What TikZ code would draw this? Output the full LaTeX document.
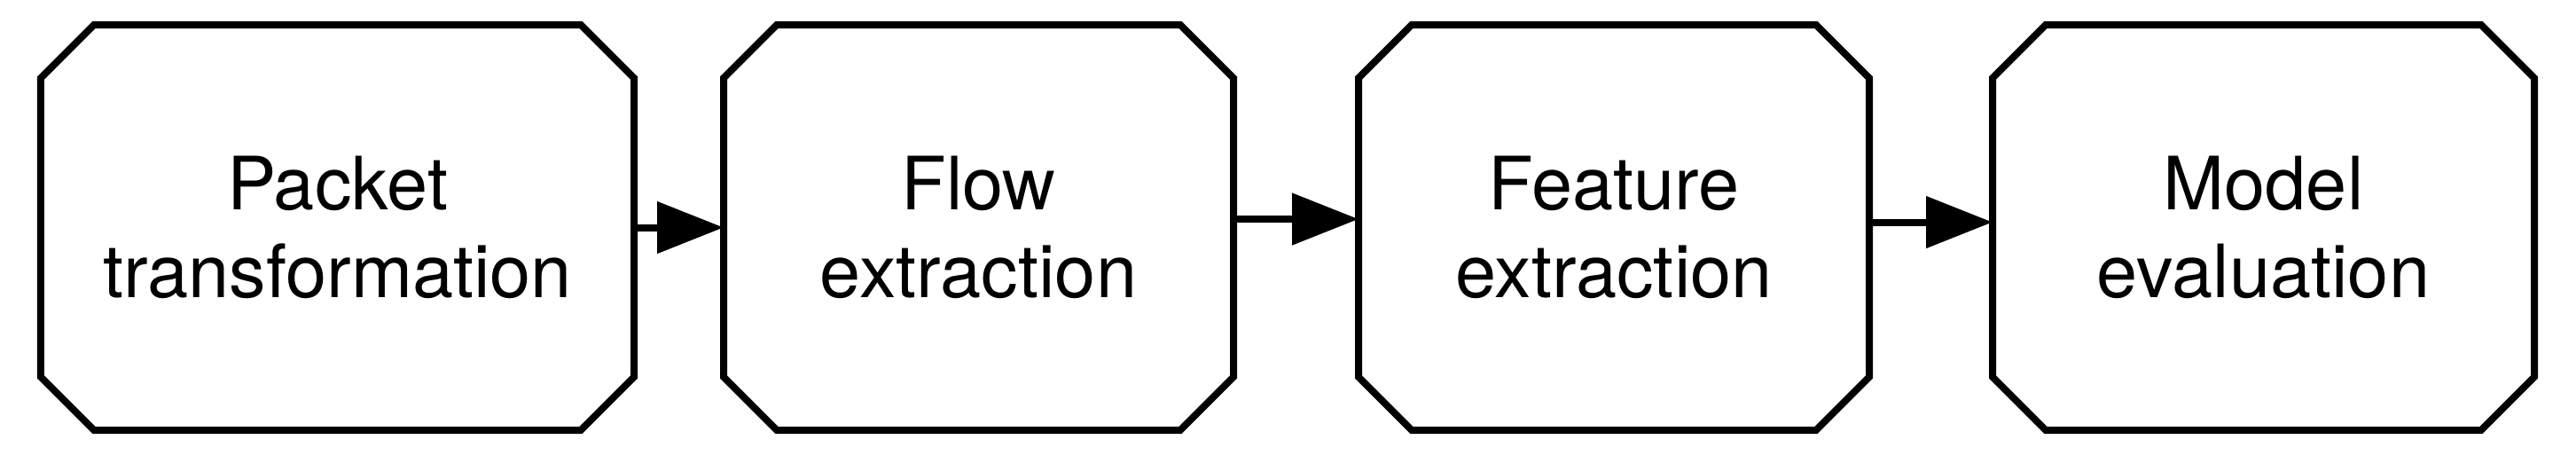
\documentclass[tikz,border=0pt]{standalone}
\usepackage{fontspec}
\setmainfont{TeX Gyre Heros}
\usetikzlibrary{shapes.misc}
\usetikzlibrary{arrows.meta}
\usetikzlibrary{positioning}
\begin{document}
\begin{tikzpicture}[
		stage/.style={chamfered rectangle, chamfered rectangle xsep=0.3cm, chamfered rectangle ysep=0.3cm, draw, line width=0.08cm, inner sep=0pt, outer sep=0pt, minimum height=4.57cm, align=center, font=\fontsize{23.6}{28.3}\selectfont},
		flow/.style={line width=0.08cm, -{Triangle[length=0.75cm, width=0.57cm]}}
	]
	\useasboundingbox (0, 0) rectangle (29.05, 5.21);
	\node[stage, minimum width=6.69cm] (packet) at (3.805, 2.645) {Packet \\ transformation};
	\node[stage, minimum width=5.75cm, right=1.01cm of packet] (flowext) {Flow \\ extraction};
	\node[stage, minimum width=5.76cm, right=1.41cm of flowext] (featext) {Feature \\ extraction};
	\node[stage, minimum width=6.11cm, right=1.39cm of featext] (model) {Model \\ evaluation};

	\draw[flow] (packet.east) -- (flowext.west);
	\draw[flow] ([yshift=0.095cm]flowext.east) -- ([yshift=0.095cm]featext.west);
	\draw[flow] ([yshift=0.06cm]featext.east) -- ([yshift=0.06cm]model.west);
\end{tikzpicture}
\end{document}
